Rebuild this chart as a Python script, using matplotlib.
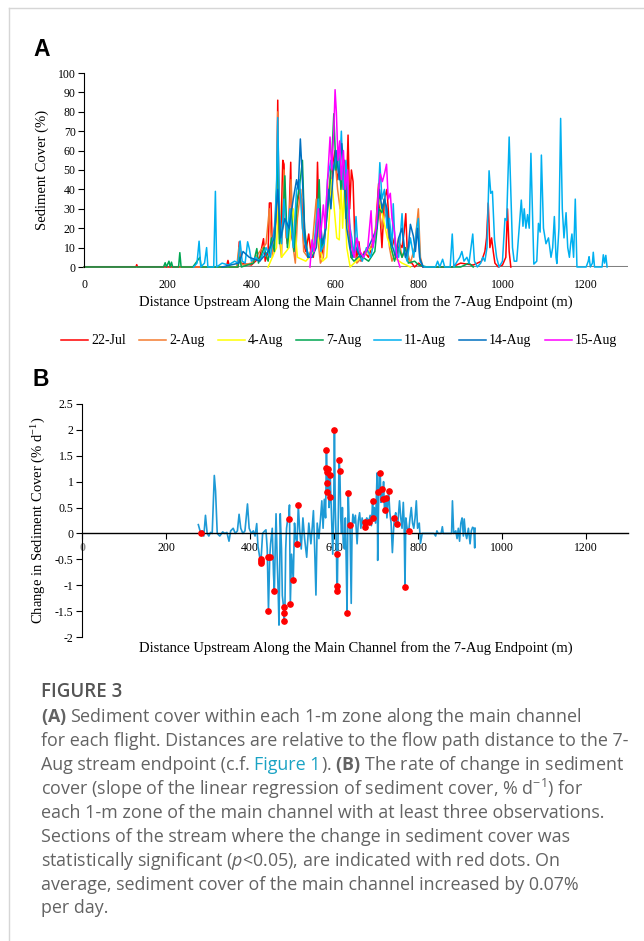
import matplotlib
matplotlib.use('Agg')
import matplotlib.pyplot as plt
from matplotlib.lines import Line2D

plt.rcParams['font.family'] = ['Liberation Serif', 'DejaVu Serif']
plt.rcParams['axes.unicode_minus'] = False
plt.rcParams['mathtext.fontset'] = 'custom'
plt.rcParams['mathtext.rm'] = 'Open Sans'
plt.rcParams['mathtext.it'] = 'Open Sans:italic'
plt.rcParams['mathtext.bf'] = 'Open Sans:bold'

# ---- panel A: sediment cover (%) along the channel, one series per flight
jul22_x = [0, 100, 124, 126, 128, 250, 340, 344, 348, 368, 371, 374, 400, 420, 429, 433, 440, 443, 447, 450, 455, 460, 463, 466, 470, 475, 478, 482, 486, 490, 494, 497, 502, 508, 515, 520, 525, 530, 537, 542, 548, 555, 558, 562, 566, 572, 578, 585, 590, 596, 600, 605, 610, 616, 622, 626, 631, 635, 639, 643, 647, 652, 657, 662, 670, 680, 690, 697, 704, 708, 712, 718, 724, 730, 736, 742, 748, 754, 760, 765, 769, 773, 780, 790, 800, 810, 880, 900, 930, 950, 958, 962, 966, 970, 974, 978, 982, 990, 1000, 1008, 1012, 1016, 1020]
jul22_y = [0, 0, 0, 1.2, 0, 0, 0, 3.4, 0, 0, 13, 2, 1, 5, 14.6, 3, 8, 33, 33, 10, 20, 26, 86, 20, 12, 55, 53, 20, 12, 25, 54, 15, 10, 30, 40, 35, 12, 8, 17, 8, 5, 20, 54, 20, 5, 10, 25, 40, 35, 55, 60, 45, 50, 40, 55, 30, 68, 30, 50, 44, 15, 5, 13, 3, 8, 5, 12, 20, 43, 25, 10, 35, 40, 20, 10, 15, 5, 12, 10, 18, 27.5, 5, 3, 0, 2, 0, 0, 2, 1, 3, 8, 15, 33, 10, 15, 8, 2, 0, 1, 5, 30, 8, 0]

aug2_x = [230, 300, 365, 370, 375, 380, 400, 420, 435, 443, 450, 460, 463, 467, 472, 478, 483, 490, 495, 500, 505, 510, 518, 525, 535, 545, 555, 560, 565, 572, 580, 590, 600, 606, 612, 618, 625, 632, 638, 645, 652, 665, 680, 695, 705, 712, 718, 724, 730, 736, 745, 752, 760, 770, 780, 790, 799, 804, 810]
aug2_y = [0, 0, 0, 10, 2, 1, 2, 8, 12, 30, 5, 25, 80, 15, 5, 50, 15, 25, 45, 10, 2, 25, 40, 8, 5, 10, 35, 12, 2, 5, 30, 50, 55, 40, 30, 50, 35, 20, 5, 10, 2, 5, 8, 15, 30, 20, 28, 25, 10, 3, 8, 15, 5, 10, 2, 10, 30, 5, 0]

aug4_x = [440, 460, 466, 472, 490, 500, 510, 530, 550, 560, 570, 580, 586, 592, 598, 604, 610, 614, 618, 622, 628, 636, 660, 690, 705, 715, 725, 740, 760, 780]
aug4_y = [0, 10, 40, 5, 10, 30, 5, 3, 8, 15, 3, 5, 25, 45, 30, 15, 14, 45, 20, 40, 10, 0, 5, 10, 35, 25, 15, 5, 2, 0]

aug7_x = [0, 190, 194, 197, 203, 206, 209, 212, 226, 229, 232, 260, 277, 280, 368, 372, 376, 405, 413, 417, 430, 440, 448, 455, 463, 467, 474, 480, 486, 495, 502, 510, 517, 522, 527, 535, 545, 555, 562, 568, 575, 585, 592, 597, 602, 608, 614, 620, 626, 632, 638, 645, 660, 680, 695, 705, 712, 718, 726, 734, 742, 752, 760, 768, 775, 790, 800, 820, 900, 920, 930]
aug7_y = [0, 0, 2.2, 0, 3, 0, 2.5, 0, 0, 7.4, 0, 0, 5, 0, 0, 5, 0, 2, 9.5, 2, 10, 3, 15, 8, 60, 12, 18, 47, 10, 30, 8, 35, 45, 55, 20, 5, 8, 15, 45, 10, 15, 35, 55, 79, 50, 60, 40, 55, 25, 35, 5, 3, 6, 3, 8, 30, 28, 35, 25, 10, 3, 10, 5, 10, 2, 3, 1, 0, 0, 2, 0]

aug11_x = [262, 270, 275, 279, 288, 293, 296, 310, 314, 317, 330, 345, 360, 368, 373, 378, 385, 391, 395, 400, 410, 420, 435, 445, 455, 460, 463, 467, 472, 478, 485, 492, 500, 508, 515, 522, 530, 540, 550, 560, 566, 574, 582, 590, 597, 604, 610, 615, 620, 626, 632, 640, 645, 650, 655, 665, 675, 685, 695, 702, 707, 712, 718, 724, 730, 736, 739, 744, 752, 760, 765, 772, 780, 788, 795, 799, 803, 812, 840, 845, 850, 857, 862, 875, 880, 884, 892, 898, 903, 908, 915, 920, 929, 933, 940, 948, 953, 958, 963, 968, 972, 976, 981, 986, 992, 1000, 1006, 1010, 1016, 1020, 1024, 1028, 1034, 1040, 1045, 1049, 1052, 1056, 1060, 1064, 1068, 1072, 1075, 1082, 1086, 1090, 1093, 1098, 1104, 1110, 1116, 1120, 1124, 1128, 1130, 1135, 1139, 1143, 1147, 1152, 1156, 1160, 1163, 1166, 1170, 1174, 1178, 1200, 1205, 1207, 1210, 1215, 1217, 1220, 1238, 1241, 1244, 1247, 1250]
aug11_y = [0, 2, 13.3, 0, 2, 10, 0, 0, 39, 0, 2, 1, 3, 2, 13.4, 3, 2, 13, 9.5, 3, 5, 3, 10, 5, 20, 40, 77, 30, 12, 35, 15, 30, 10, 40, 45, 20, 10, 5, 12, 35, 8, 12, 45, 55, 50, 60, 45, 70, 40, 55, 25, 15, 5, 26, 8, 3, 10, 5, 15, 30, 53.8, 35, 40, 20, 25, 10, 32.6, 8, 5, 27.5, 8, 3, 15, 5, 20, 25, 3, 0, 0, 3, 0, 4, 0, 0, 17, 0, 3, 5, 8, 3, 5, 2, 17, 3, 0, 2, 5, 3, 10, 49.6, 38, 39, 14, 5, 0, 3, 25, 24, 67, 38, 10, 3, 3, 20, 34.5, 21, 30, 20, 27, 20, 58.6, 25, 1.5, 3, 22.5, 18, 57.7, 20, 12, 15, 5, 10, 26, 5, 1.8, 20, 76.6, 30, 15, 28, 10, 5, 12, 17, 5, 35, 0, 0, 3, 5.3, 0, 2, 7.6, 0, 0, 6.3, 2, 6, 0]

aug14_x = [330, 370, 380, 395, 420, 440, 455, 463, 470, 480, 490, 500, 508, 512, 517, 522, 528, 535, 545, 555, 562, 570, 578, 585, 590, 596, 602, 610, 616, 622, 628, 635, 642, 650, 660, 675, 690, 700, 706, 712, 718, 724, 730, 738, 745, 752, 760, 768, 775, 780, 787, 792, 797, 802, 810]
aug14_y = [0, 2, 8, 5, 3, 8, 15, 40, 15, 25, 20, 35, 45, 40, 66, 45, 15, 5, 5, 10, 30, 12, 20, 40, 30, 50, 60, 45, 63.6, 50, 20, 10, 5, 10, 5, 8, 15, 20, 40, 30, 35, 30, 15, 10, 5, 15, 20, 5, 10, 22, 16, 8, 20, 5, 0]

aug15_x = [540, 545, 550, 556, 560, 565, 572, 576, 582, 588, 592, 597, 600, 603, 607, 611, 615, 620, 624, 630, 635, 640, 646, 652, 660, 668, 678, 686, 690, 698, 704, 708, 713, 718, 723, 727, 732, 736, 742, 748, 755]
aug15_y = [0, 14, 8, 20, 30, 15, 32, 20, 45, 67, 50, 70, 91.4, 80, 55, 65, 45, 60, 40, 50, 20, 10, 5, 15, 8, 5, 10, 29, 10, 20, 40, 48, 44, 48, 53, 35, 38, 25, 18, 5, 0]

flight_labels = ['22-Jul', '2-Aug', '4-Aug', '7-Aug', '11-Aug', '14-Aug', '15-Aug']
flight_colors = ['#ff0000', '#f47c30', '#ffff00', '#00a651', '#00b0f0', '#0070c0', '#ff00ff']
flights_x = [jul22_x, aug2_x, aug4_x, aug7_x, aug11_x, aug14_x, aug15_x]
flights_y = [jul22_y, aug2_y, aug4_y, aug7_y, aug11_y, aug14_y, aug15_y]

# ---- panel B: rate of change (% per day)
rate_x = [277, 280, 283, 287, 290, 294, 298, 302, 306, 310, 315, 318, 322, 328, 335, 340, 345, 350, 354, 360, 365, 370, 374, 378, 383, 388, 394, 398, 403, 408, 412, 416, 419, 423, 426, 430, 434, 438, 441, 444, 447, 449, 453, 456, 458, 460, 462, 465, 467, 469, 471, 472, 475, 477, 480, 481, 483, 485, 487, 490, 492, 494, 496, 499, 503, 506, 509, 512, 515, 518, 522, 526, 530, 535, 540, 545, 548, 551, 554, 557, 560, 564, 568, 571, 574, 577, 580, 582, 583, 584, 585, 586, 588, 590, 591, 593, 595, 597, 599, 601, 603, 606, 607, 608, 610, 612, 614, 616, 618, 620, 622, 625, 627, 629, 631, 633, 634, 636, 638, 641, 643, 645, 648, 651, 655, 658, 661, 664, 667, 670, 673, 674, 678, 683, 686, 689, 692, 693, 696, 699, 702, 703, 704, 706, 708, 710, 712, 714, 716, 718, 720, 722, 723, 726, 730, 733, 736, 739, 742, 744, 747, 749, 752, 756, 759, 762, 765, 767, 769, 771, 774, 778, 781, 784, 787, 790, 793, 796, 799, 803, 806, 810, 838, 842, 845, 848, 855, 858, 860, 880, 882, 885, 890, 893, 896, 899, 902, 905, 908, 910, 913, 916, 920, 924, 927, 930, 933, 935, 936]
rate_y = [0.17, 0.08, 0.0, 0.05, -0.05, 0.35, 0.0, -0.05, 0.02, 0.0, 1.12, 0.82, 0.0, -0.05, 0.03, 0.0, 0.02, -0.15, 0.05, 0.1, 0.0, 0.05, 0.37, 0.1, 0.0, 0.05, 0.57, 0.1, 0.0, 0.05, -0.05, 0.19, -0.25, -0.45, -0.55, 0.0, 0.04, 0.07, -0.3, -1.49, -0.45, -0.2, 0.1, -0.8, -1.12, -0.3, 0.38, -0.6, -1.1, -1.77, -0.5, 0.38, -0.3, -1.2, -1.43, -1.70, -1.53, -0.3, 0.1, 0.29, 0.28, 0.55, -1.36, -0.4, -0.9, 0.2, -0.1, -0.2, 0.54, 0.1, -0.3, 0.3, -0.1, -0.46, 0.2, -0.2, 0.1, 0.44, -0.3, -1.19, 0.2, -0.1, 0.3, 0.63, 0.1, 0.66, 0.3, 1.62, 1.19, 0.97, 0.80, 1.25, 0.5, 0.7, 1.12, 0.6, 0.1, -0.4, 0.3, 2.0, 0.5, -0.39, -1.12, -1.02, 0.2, 1.42, 1.21, 0.3, 0.0, 0.5, -0.2, -0.3, 0.3, -0.5, -1.54, 0.3, 0.78, 0.2, 0.17, -1.35, 0.1, 0.37, 0.2, 0.35, -0.2, 0.25, 0.4, 0.1, 0.3, 0.15, 0.13, 0.22, 0.3, 0.23, 0.35, 0.15, 0.63, 0.30, 0.5, 0.2, 1.0, 1.17, -0.52, 0.5, 1.17, 1.17, 0.6, 0.85, 0.66, 1.0, 0.5, 0.45, 0.69, 0.3, 0.82, 0.4, 0.2, -0.37, 0.1, 0.30, 0.4, 0.18, 0.2, 0.63, 0.3, 0.1, 0.6, 0.2, -1.04, 0.3, 0.1, 0.05, 0.3, 0.5, 0.2, 0.1, 0.3, 0.63, 0.1, 0.2, -0.19, 0.0, 0.0, -0.05, 0.05, 0.0, 0.0, 0.13, 0.0, 0.0, 0.63, 0.0, 0.05, -0.1, 0.1, -0.15, 0.2, 0.3, -0.05, 0.28, 0.0, -0.1, 0.1, -0.2, 0.05, 0.12, 0.1, -0.28, 0.1]

sig_x = [283, 426, 426, 427, 443, 448, 444, 457, 480, 482, 481, 492, 495, 503, 512, 515, 582, 581, 583, 586, 583, 584, 591, 590, 601, 606, 608, 607, 612, 614, 631, 634, 638, 674, 673, 683, 692, 693, 704, 710, 714, 716, 722, 723, 730, 744, 749, 769, 778]
sig_y = [0.0, -0.5, -0.54, -0.57, -0.45, -0.45, -1.49, -1.11, -1.43, -1.53, -1.70, 0.28, -1.36, -0.9, -0.2, 0.54, 1.62, 1.27, 1.19, 1.25, 0.97, 0.80, 1.12, 0.70, 2.0, -0.39, -1.02, -1.12, 1.42, 1.21, -1.54, 0.78, 0.17, 0.22, 0.13, 0.23, 0.63, 0.30, 0.80, 1.17, 0.85, 0.66, 0.45, 0.69, 0.82, 0.30, 0.18, -1.04, 0.05]

xticks = [0, 200, 400, 600, 800, 1000, 1200]
a_yticks = [0, 10, 20, 30, 40, 50, 60, 70, 80, 90, 100]
b_yticks = [-2, -1.5, -1, -0.5, 0, 0.5, 1, 1.5, 2, 2.5]
b_ytick_labels = ['-2', '-1.5', '-1', '-0.5', '0', '0.5', '1', '1.5', '2', '2.5']

xlabel = 'Distance Upstream Along the Main Channel from the 7-Aug Endpoint (m)'

W, H = 644, 941
fig = plt.figure(figsize=(W / 100, H / 100), dpi=100)

def fx(px):
    return px / W

def fy(py):
    return 1 - py / H

# frame of the page
fig.add_artist(Line2D([fx(9), fx(9)], [0, fy(8)], color='#d6d6d6', lw=1))
fig.add_artist(Line2D([fx(9), 1], [fy(8), fy(8)], color='#d6d6d6', lw=1))

# ---------------- panel A
axA = fig.add_axes([fx(84), fy(267), fx(628) - fx(84), fy(73) - fy(267)])
for xs, ys, c in zip(flights_x, flights_y, flight_colors):
    axA.plot(xs, ys, color=c, lw=1.1, clip_on=False, zorder=2)
axA.axhline(0, color='#808080', lw=2.2, zorder=1)
axA.set_xlim(0, 1300)
axA.set_ylim(0, 100)
axA.set_xticks(xticks)
axA.set_yticks(a_yticks)
axA.tick_params(axis='x', length=0, labelsize=8.5, pad=9)
axA.tick_params(axis='y', length=4, width=0.8, labelsize=8.5, pad=2)
for s in ['top', 'right', 'bottom']:
    axA.spines[s].set_visible(False)
axA.spines['left'].set_linewidth(0.8)
axA.set_ylabel('Sediment Cover (%)', fontsize=10.5, labelpad=6)
fig.text(fx(356), fy(302), xlabel, fontsize=10.5, ha='center', va='center')
fig.text(fx(33), fy(49), 'A', fontsize=16.5, fontweight='bold',
         family='Liberation Sans', va='center', ha='left')

handles = [Line2D([], [], color=c, lw=1.1) for c in flight_colors]
fig.legend(handles, flight_labels, loc='center', bbox_to_anchor=(fx(339), fy(341)),
           ncol=7, frameon=False, fontsize=10, handlelength=1.95,
           handletextpad=0.2, columnspacing=0.95, borderpad=0)

# ---------------- panel B
axB = fig.add_axes([fx(82), fy(637), fx(628) - fx(82), fy(404) - fy(637)])
axB.plot(rate_x, rate_y, color='#1e9ad6', lw=1.2, zorder=2)
axB.plot(sig_x, sig_y, 'o', color='#ff0000', ms=3.8, zorder=3)
axB.set_xlim(0, 1300)
axB.set_ylim(-2, 2.5)
axB.spines['bottom'].set_position(('data', 0))
for s in ['top', 'right']:
    axB.spines[s].set_visible(False)
axB.spines['left'].set_linewidth(0.8)
axB.spines['bottom'].set_linewidth(1.0)
axB.set_xticks(xticks)
axB.set_xticklabels([str(v) for v in xticks])
axB.get_xticklabels()[0].set_color('#8c8c8c')
axB.get_xticklabels()[0].set_fontweight('bold')
axB.set_yticks(b_yticks)
axB.set_yticklabels(b_ytick_labels)
axB.tick_params(axis='x', length=4, width=0.8, labelsize=8.5, pad=2)
axB.tick_params(axis='y', length=4, width=0.8, labelsize=8.5, pad=2)
axB.set_ylabel('Change in Sediment Cover (% d$^{\\mathregular{-1}}$)', fontsize=10.5, labelpad=6)
fig.text(fx(356), fy(648), xlabel, fontsize=10.5, ha='center', va='center')
fig.text(fx(33), fy(379), 'B', fontsize=16.5, fontweight='bold',
         family='Liberation Sans', va='center', ha='left')

# ---------------- caption
cap_gray = '#636363'
cap_font = dict(family='Open Sans', fontsize=12.9, color=cap_gray, va='center', ha='left')
fig.text(fx(41), fy(692), 'FIGURE 3', family='Open Sans', fontsize=13.5, fontweight='semibold',
         color='#555555', va='center', ha='left')

renderer = fig.canvas.get_renderer()

def width_of(s, **kw):
    t = fig.text(0, 0, s + '|', **kw)
    t2 = fig.text(0, 0, '|', **kw)
    w = t.get_window_extent(renderer).width - t2.get_window_extent(renderer).width
    t.remove()
    t2.remove()
    return w

def rich_line(py, parts):
    x = 41
    for s, extra in parts:
        kw = dict(cap_font)
        kw.update(extra)
        fig.text(fx(x), fy(py), s, **kw)
        x += width_of(s, **kw)

caption_lines = [
    (717, [(r'$\mathbf{(A)}$ Sediment cover within each 1-m zone along the main channel', {})]),
    (741, [('for each flight. Distances are relative to the flow path distance to the 7-', {})]),
    (765, [('Aug stream endpoint (c.f. ', {}), ('Figure 1', {'color': '#1aa3c4'}),
           (r'). $\mathbf{(B)}$ The rate of change in sediment', {})]),
    (789, [(r'cover (slope of the linear regression of sediment cover, % d$^{-1}$) for', {})]),
    (813, [('each 1-m zone of the main channel with at least three observations.', {})]),
    (837, [('Sections of the stream where the change in sediment cover was', {})]),
    (861, [(r'statistically significant ($\mathit{p}$<0.05), are indicated with red dots. On', {})]),
    (885, [('average, sediment cover of the main channel increased by 0.07%', {})]),
    (908, [('per day.', {})]),
]
for py, parts in caption_lines:
    rich_line(py, parts)

fig.savefig('out.png', dpi=100)
